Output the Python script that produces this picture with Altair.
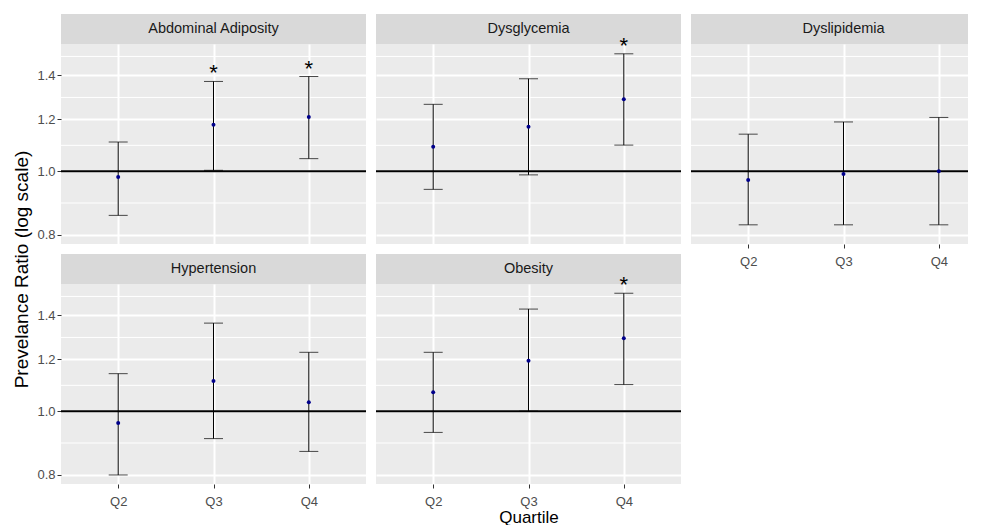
import altair as alt
import pandas as pd

outcomes = ["Abdominal Adiposity", "Dysglycemia", "Dyslipidemia", "Hypertension", "Obesity"]
quartiles = ["Q2", "Q3", "Q4"]

# prevalence ratio estimates per outcome (Q2, Q3, Q4)
est_abdominal = [0.980, 1.177, 1.210]
est_dysglycemia = [1.090, 1.169, 1.288]
est_dyslipidemia = [0.969, 0.990, 1.000]
est_hypertension = [0.959, 1.112, 1.032]
est_obesity = [1.069, 1.194, 1.292]

# lower confidence limits
lo_abdominal = [0.856, 1.003, 1.045]
lo_dysglycemia = [0.938, 0.987, 1.096]
lo_dyslipidemia = [0.828, 0.828, 0.828]
lo_hypertension = [0.799, 0.908, 0.868]
lo_obesity = [0.928, 1.000, 1.098]

# upper confidence limits
hi_abdominal = [1.108, 1.371, 1.395]
hi_dysglycemia = [1.265, 1.384, 1.511]
hi_dyslipidemia = [1.139, 1.189, 1.208]
hi_hypertension = [1.141, 1.363, 1.230]
hi_obesity = [1.230, 1.432, 1.514]

# significance markers
sig_abdominal = ["", "*", "*"]
sig_dysglycemia = ["", "", "*"]
sig_dyslipidemia = ["", "", ""]
sig_hypertension = ["", "", ""]
sig_obesity = ["", "", "*"]

y_breaks = [0.8, 1.0, 1.2, 1.4]
minor_breaks = [0.894, 1.095, 1.296, 1.497]
y_domain = [0.774, 1.564]

est = [est_abdominal, est_dysglycemia, est_dyslipidemia, est_hypertension, est_obesity]
los = [lo_abdominal, lo_dysglycemia, lo_dyslipidemia, lo_hypertension, lo_obesity]
his = [hi_abdominal, hi_dysglycemia, hi_dyslipidemia, hi_hypertension, hi_obesity]
sigs = [sig_abdominal, sig_dysglycemia, sig_dyslipidemia, sig_hypertension, sig_obesity]

rows = []
for o, e, l, h, s in zip(outcomes, est, los, his, sigs):
    for q, ev, lv, hv, sv in zip(quartiles, e, l, h, s):
        rows.append({"outcome": o, "quartile": q, "pr": ev, "lo": lv, "hi": hv, "star": sv})
df = pd.DataFrame(rows)

W, H = 305, 200          # full panel size
W_LAST = 277             # right-most panel is cut off at the edge of the picture
STRIP = 30
FONT = "Liberation Sans"
yscale = alt.Scale(type="log", domain=y_domain, nice=False, zero=False)
STEP = W / 3.2           # ggplot discrete expansion of 0.6 on each side


def panel(outcome, show_x, show_y, xtitle=None, view_w=W):
    xaxis = alt.Axis(
        title=xtitle,
        grid=True,
        labels=show_x,
        ticks=show_x,
        labelAngle=0,
        labelPadding=7,
        titlePadding=1,
        titleFontSize=17,
        titleFontWeight="normal",
        titleColor="black",
        titleFont=FONT,
    )
    yaxis = alt.Axis(
        values=y_breaks,
        format=".1f",
        title=None,
        grid=True,
        labels=show_y,
        ticks=show_y,
    )
    if view_w == W:
        xscale = alt.Scale(type="point", padding=0.6)
    else:
        pad = (view_w / STEP - 2) / 2
        align = 0.6 * STEP / (view_w - 2 * STEP)
        xscale = alt.Scale(type="point", padding=pad, align=align)
    xenc = alt.X("quartile:N", sort=quartiles, scale=xscale, axis=xaxis)

    base = alt.Chart(df).transform_filter(alt.datum.outcome == outcome)
    one = base.transform_filter(alt.datum.quartile == "Q2")

    strip = one.mark_rect(color="#D9D9D9").encode(
        x=alt.value(0), x2=alt.value(view_w), y=alt.value(-STRIP), y2=alt.value(0)
    )
    strip_text = one.mark_text(fontSize=14.5, color="#1A1A1A", font=FONT, baseline="middle").encode(
        text="outcome:N", x=alt.value(W / 2), y=alt.value(-STRIP / 2)
    )
    minor = (
        one.transform_calculate(m="[" + ",".join(str(v) for v in minor_breaks) + "]")
        .transform_flatten(["m"])
        .mark_rule(color="white", strokeWidth=1)
        .encode(y=alt.Y("m:Q", scale=yscale, axis=yaxis))
    )
    hline = one.transform_calculate(ref="1.0").mark_rule(color="black", strokeWidth=2).encode(
        y=alt.Y("ref:Q", scale=yscale, axis=yaxis)
    )
    bars = base.mark_rule(color="black", strokeWidth=1).encode(
        x=xenc, y=alt.Y("lo:Q", scale=yscale, axis=yaxis), y2="hi:Q"
    )
    cap_lo = base.mark_tick(color="black", thickness=1, size=19, orient="horizontal").encode(
        x=xenc, y=alt.Y("lo:Q", scale=yscale, axis=yaxis)
    )
    cap_hi = base.mark_tick(color="black", thickness=1, size=19, orient="horizontal").encode(
        x=xenc, y=alt.Y("hi:Q", scale=yscale, axis=yaxis)
    )
    points = base.mark_circle(color="#00008B", size=16, opacity=1).encode(
        x=xenc, y=alt.Y("pr:Q", scale=yscale, axis=yaxis)
    )
    stars = base.transform_filter(alt.datum.star != "").mark_text(
        fontSize=22, baseline="alphabetic", dy=-1, color="black", font=FONT
    ).encode(x=xenc, y=alt.Y("hi:Q", scale=yscale, axis=yaxis), text="star:N")

    return alt.layer(strip, strip_text, minor, hline, bars, cap_lo, cap_hi, points, stars).properties(
        width=view_w, height=H
    )


p1 = panel(outcomes[0], show_x=False, show_y=True)
p2 = panel(outcomes[1], show_x=False, show_y=False)
p3 = panel(outcomes[2], show_x=True, show_y=False, view_w=W_LAST)
p4 = panel(outcomes[3], show_x=True, show_y=True)
p5 = panel(outcomes[4], show_x=True, show_y=False, xtitle="Quartile")

chart = (
    alt.concat(p1, p2, p3, p4, p5, columns=3, spacing={"row": 40, "column": 10}, bounds="flush")
    .properties(
        title=alt.Title(
            "Prevelance Ratio (log scale)",
            orient="left",
            anchor="middle",
            fontSize=19,
            fontWeight="normal",
            color="black",
            font=FONT,
            offset=5,
        ),
        padding={"left": 4, "top": 6, "right": 0, "bottom": 0},
    )
    .configure(font=FONT)
    .configure_view(fill="#EBEBEB", stroke=None)
    .configure_axis(
        domain=False,
        gridColor="white",
        gridWidth=2,
        tickColor="#333333",
        tickSize=4,
        labelColor="#4D4D4D",
        labelFontSize=13,
        labelFont=FONT,
        labelPadding=2,
    )
)

chart.save("out.html", embed_options={"renderer": "svg", "actions": False})
